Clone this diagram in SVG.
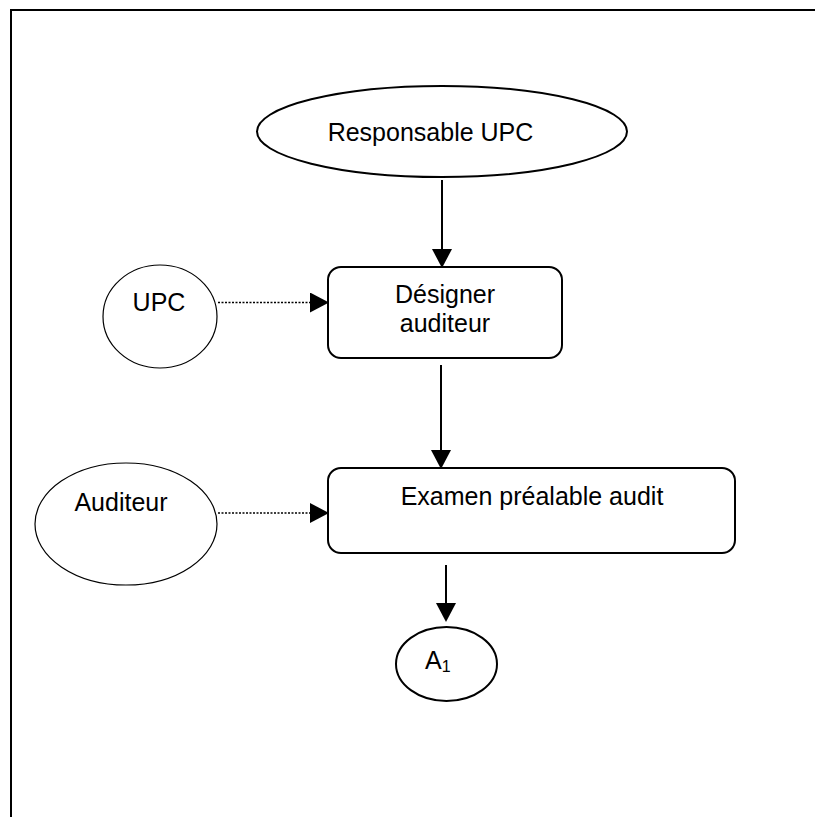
<svg xmlns="http://www.w3.org/2000/svg" width="815" height="817" viewBox="0 0 815 817">
<defs>
<style>
text{font-family:"Liberation Sans",Arial,sans-serif;font-size:25px;fill:#000;}
.shape{fill:#fff;stroke:#000;}
.solid{stroke:#000;stroke-width:2;fill:none;}
.dotted{stroke:#000;stroke-width:1.5;stroke-dasharray:2 1.5;fill:none;}
</style>
<marker id="arr" markerUnits="userSpaceOnUse" markerWidth="19" markerHeight="20" refX="0" refY="10" orient="auto" viewBox="0 0 19 20">
<path d="M0,0 L19,10 L0,20 z" fill="#000"/>
</marker>
</defs>
<rect width="815" height="817" fill="#fff"/>
<path d="M11,817 V10 H815" fill="none" stroke="#000" stroke-width="2"/>

<g id="n-responsable">
<ellipse class="shape" cx="442" cy="131.5" rx="185" ry="45.5" stroke-width="2"/>
<text x="430.5" y="141" text-anchor="middle">Responsable UPC</text>
</g>
<g id="n-upc">
<ellipse class="shape" cx="160" cy="316.5" rx="57" ry="51.5" stroke-width="1.2"/>
<text x="159" y="311" text-anchor="middle">UPC</text>
</g>
<g id="n-designer">
<rect class="shape" x="328" y="267" width="234" height="91" rx="13" stroke-width="2"/>
<text x="445" y="303" text-anchor="middle">Désigner</text>
<text x="445" y="332" text-anchor="middle">auditeur</text>
</g>
<g id="n-auditeur">
<ellipse class="shape" cx="126" cy="524" rx="91" ry="61" stroke-width="1.2"/>
<text x="121" y="511" text-anchor="middle">Auditeur</text>
</g>
<g id="n-examen">
<rect class="shape" x="328" y="468" width="407" height="85" rx="13" stroke-width="2"/>
<text x="532" y="505" text-anchor="middle">Examen préalable audit</text>
</g>
<g id="n-a1">
<ellipse class="shape" cx="446.5" cy="664" rx="50.5" ry="37" stroke-width="2"/>
<text x="425" y="669">A<tspan font-size="16" dy="3">1</tspan></text>
</g>

<g id="connectors">
<line class="solid" x1="442" y1="180" x2="442" y2="249" marker-end="url(#arr)"/>
<line class="solid" x1="441" y1="365" x2="441" y2="450" marker-end="url(#arr)"/>
<line class="solid" x1="446" y1="565" x2="446" y2="603" marker-end="url(#arr)"/>
<line class="dotted" x1="218" y1="302.5" x2="310" y2="302.5" marker-end="url(#arr)"/>
<line class="dotted" x1="218" y1="513" x2="310" y2="513" marker-end="url(#arr)"/>
</g>
</svg>
